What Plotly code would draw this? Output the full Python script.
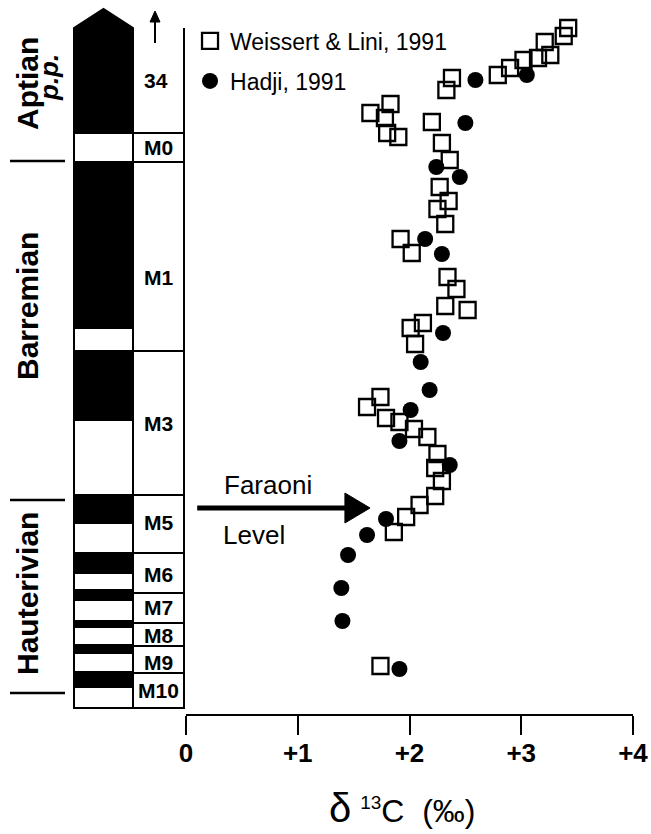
import plotly.graph_objects as go

# ---------------- data ----------------
# relative stratigraphic level (arbitrary units, 0 = base of M10) and d13C (permil)
weissert_d13c = [3.42, 3.38, 3.21, 3.26, 3.15, 3.02, 2.90, 2.79, 2.38, 2.33,
                 1.83, 1.65, 1.78, 1.80, 1.90, 2.20, 2.29, 2.36,
                 2.27, 2.35, 2.25, 2.32, 1.92, 2.02, 2.34, 2.42, 2.32, 2.52,
                 2.01, 2.12, 2.05,
                 1.74, 1.62, 1.79, 1.91, 2.04, 2.16, 2.25, 2.23, 2.29, 2.23, 2.09, 1.97, 1.86,
                 1.74]
weissert_level = [680, 672, 666, 653, 650, 648, 640, 633, 630, 618,
                  604, 595, 590, 575, 571, 586, 565, 548,
                  521, 507, 499, 484, 469, 455, 431, 419, 402, 398,
                  380, 385, 364,
                  311, 301, 290, 286, 279, 271, 254, 240, 227, 212, 203, 191, 176,
                  42]

hadji_d13c = [3.05, 2.59, 2.50, 2.24, 2.45, 2.14, 2.29, 2.30, 2.10, 2.18,
              2.01, 1.91, 2.36, 1.79, 1.62, 1.45, 1.39, 1.40, 1.91]
hadji_level = [633, 628, 585, 541, 531, 469, 454, 375, 346, 318,
               298, 267, 243, 189, 173, 153, 120, 87, 39]

# magnetic polarity column (top of column down to base)
chron_bounds = [680, 575, 546, 380, 357, 288, 213, 185, 155, 135, 118, 108, 87, 81, 63, 55, 36, 21, 0]
polarity = ["N", "R", "N", "R", "N", "R", "N", "R", "N", "R", "N", "R", "N", "R", "N", "R", "N", "R"]
apex_level = 699

chron_names = ["M0", "M1", "M3", "M5", "M6", "M7", "M8", "M9", "M10"]
chron_box_bounds = [575, 546, 357, 213, 155, 115, 85, 62, 35, 0]
chron_label_level = [561, 431, 285, 186, 134, 101, 73, 46, 18]
top_chron_name = "34"
top_chron_level = 628

stages = ["Aptian", "Barremian", "Hauterivian"]
stage_level = [624, 402, 114]
stage_sep_level = [547, 208, 15]

xtick_vals = [0, 1, 2, 3, 4]
xtick_text = ["0", "+1", "+2", "+3", "+4"]

faraoni_level = 200
faraoni_x_start = 0.10
faraoni_x_tip = 1.647

# ---------------- figure ----------------
FONT = "Liberation Sans"
fig = go.Figure()

fig.add_trace(go.Scatter(
    x=weissert_d13c, y=weissert_level, mode="markers",
    name="Weissert & Lini, 1991",
    marker=dict(symbol="square-open", size=16, color="black", line=dict(width=2.3, color="black")),
    legend="legend",
))
fig.add_trace(go.Scatter(
    x=hadji_d13c, y=hadji_level, mode="markers",
    name="Hadji, 1991",
    marker=dict(symbol="circle", size=16, color="black"),
    legend="legend2",
))

shapes = []
COL_L, COL_R = -112, -53   # pixel offsets from plot left edge
LAB_R = -2

# top pointed black band
shapes.append(dict(
    type="path", xref="paper", yref="y", xsizemode="pixel", xanchor=0,
    path=f"M {COL_L},{chron_bounds[1]} L {COL_L},{chron_bounds[0]} L {(COL_L + COL_R) / 2},{apex_level} "
         f"L {COL_R},{chron_bounds[0]} L {COL_R},{chron_bounds[1]} Z",
    fillcolor="black", line=dict(color="black", width=2)))
for i in range(1, len(polarity)):
    shapes.append(dict(
        type="rect", xref="paper", yref="y", xsizemode="pixel", xanchor=0,
        x0=COL_L, x1=COL_R, y0=chron_bounds[i + 1], y1=chron_bounds[i],
        fillcolor="black" if polarity[i] == "N" else "white",
        line=dict(color="black", width=2)))

for i in range(len(chron_names)):
    shapes.append(dict(
        type="rect", xref="paper", yref="y", xsizemode="pixel", xanchor=0,
        x0=COL_R, x1=LAB_R, y0=chron_box_bounds[i + 1], y1=chron_box_bounds[i],
        line=dict(color="black", width=2)))
shapes.append(dict(type="line", xref="paper", yref="y", xsizemode="pixel", xanchor=0,
                   x0=LAB_R, x1=LAB_R, y0=chron_box_bounds[-1], y1=chron_bounds[0],
                   line=dict(color="black", width=2)))

# small arrow above "34"
AX = -31
shapes.append(dict(type="line", xref="paper", yref="y", xsizemode="pixel", xanchor=0,
                   x0=AX, x1=AX, y0=665, y1=688, line=dict(color="black", width=2)))
shapes.append(dict(type="path", xref="paper", yref="y", xsizemode="pixel", xanchor=0,
                   path=f"M {AX - 5},686 L {AX},697 L {AX + 5},686 Z",
                   fillcolor="black", line=dict(color="black", width=1)))

# stage separators
for lv in stage_sep_level:
    shapes.append(dict(type="line", xref="paper", yref="y", xsizemode="pixel", xanchor=0,
                       x0=-176, x1=-121, y0=lv, y1=lv, line=dict(color="black", width=2.5)))

# Faraoni arrow
shapes.append(dict(type="line", xref="x", yref="y", x0=faraoni_x_start, x1=faraoni_x_tip - 0.2,
                   y0=faraoni_level, y1=faraoni_level, line=dict(color="black", width=5)))
shapes.append(dict(type="path", xref="x", yref="y",
                   path=f"M {faraoni_x_tip - 0.225},{faraoni_level + 15} L {faraoni_x_tip},{faraoni_level} "
                        f"L {faraoni_x_tip - 0.225},{faraoni_level - 15} Z",
                   fillcolor="black", line=dict(color="black", width=1)))

annotations = []
for name, lv in zip(chron_names, chron_label_level):
    annotations.append(dict(x=0, xref="paper", xshift=-27.5, xanchor="center", y=lv, yref="y", text=name,
                            showarrow=False, font=dict(family=FONT, size=21, color="black", weight="bold")))
annotations.append(dict(x=0, xref="paper", xshift=-30, xanchor="center", y=top_chron_level, yref="y",
                        text=top_chron_name,
                        showarrow=False, font=dict(family=FONT, size=21, color="black", weight="bold")))

for st, lv in zip(stages, stage_level):
    annotations.append(dict(x=0, xref="paper", xshift=-159, xanchor="center", y=lv, yref="y", text=st,
                            textangle=-90, showarrow=False,
                            font=dict(family=FONT, size=30, color="black", weight="bold")))
annotations.append(dict(x=0, xref="paper", xshift=-137, xanchor="center", y=630, yref="y",
                        text="<i>p.p.</i>", textangle=-90, showarrow=False,
                        font=dict(family=FONT, size=26, color="black", weight="bold")))

annotations.append(dict(x=0.738, xref="x", y=223, yref="y", text="Faraoni", showarrow=False,
                        font=dict(family=FONT, size=26, color="black")))
annotations.append(dict(x=0.604, xref="x", y=173, yref="y", text="Level", showarrow=False,
                        font=dict(family=FONT, size=26, color="black")))

annotations.append(dict(x=0.485, xref="paper", xanchor="center", y=0, yref="paper", yshift=-94,
                        yanchor="middle",
                        text='<span style="font-size:40px">δ</span>\u00a0<sup><span style="font-size:19px">13</span></sup>C\u00a0\u00a0(‰)',
                        showarrow=False, font=dict(family=FONT, size=32, color="black")))

fig.update_layout(
    width=651, height=834,
    margin=dict(l=186, r=18, t=0, b=120),
    plot_bgcolor="white", paper_bgcolor="white",
    shapes=shapes, annotations=annotations,
    showlegend=True,
    legend=dict(x=0.009, xanchor="left", y=0.9426, yanchor="middle", bgcolor="rgba(0,0,0,0)",
                font=dict(family=FONT, size=23, color="black")),
    legend2=dict(x=0.009, xanchor="left", y=0.8866, yanchor="middle", bgcolor="rgba(0,0,0,0)",
                 font=dict(family=FONT, size=23, color="black")),
    xaxis=dict(range=[0, 4], showgrid=False, zeroline=False, showline=True, linecolor="black",
               linewidth=2, ticks="outside", ticklen=19, tickwidth=2, tickcolor="black",
               tickvals=xtick_vals, ticktext=xtick_text, ticklabelstandoff=-4,
               tickfont=dict(family=FONT, size=26, color="black", weight="bold")),
    yaxis=dict(range=[-6, 708], visible=False),
)

fig.write_html("out.html", config={"displayModeBar": False},
               post_script="document.body.style.margin='0';document.body.style.overflow='hidden';")
